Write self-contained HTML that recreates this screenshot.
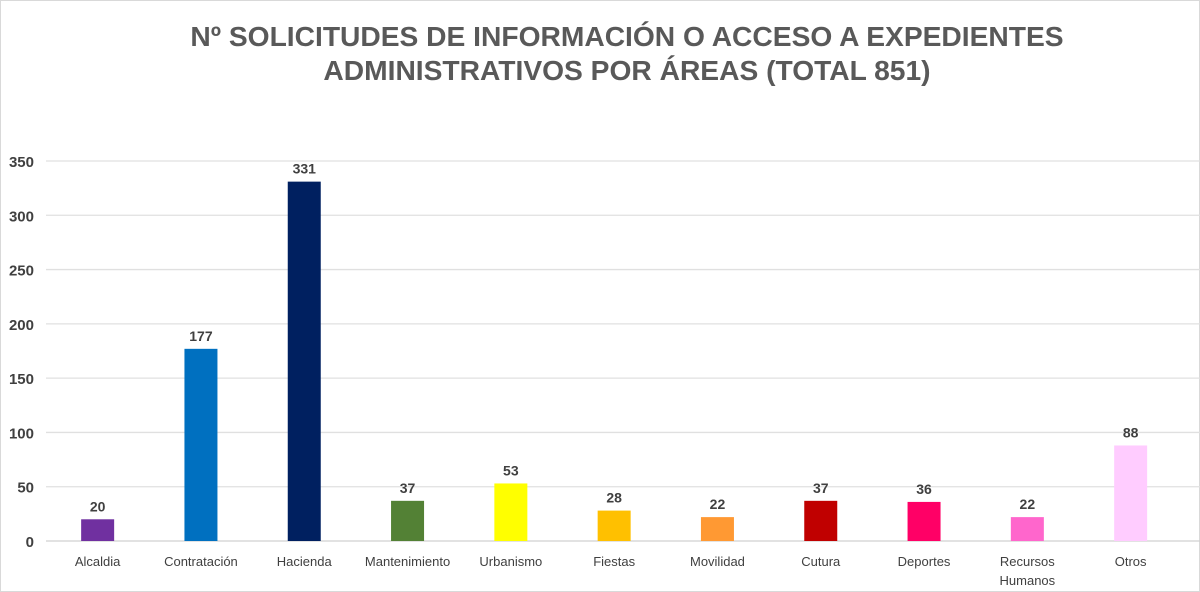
<!DOCTYPE html>
<html><head><meta charset="utf-8"><style>
body{margin:0;background:#fff;font-family:"Liberation Sans",sans-serif}
svg{display:block}
</style></head><body>
<svg id="c" width="1200" height="592">
<rect x="0.5" y="0.5" width="1199" height="591" fill="#fff" stroke="#d9d9d9"/>
<text x="627" y="46" text-anchor="middle" font-size="28.2" font-weight="bold" fill="#595959">Nº SOLICITUDES DE INFORMACIÓN O ACCESO A EXPEDIENTES</text>
<text x="627" y="80" text-anchor="middle" font-size="28.2" font-weight="bold" fill="#595959">ADMINISTRATIVOS POR ÁREAS (TOTAL 851)</text>
<g id="grid"></g><g id="bars"></g>
</svg>
<script>
const categories=["Alcaldia","Contratación","Hacienda","Mantenimiento","Urbanismo","Fiestas","Movilidad","Cutura","Deportes","Recursos Humanos","Otros"];
const values=[20,177,331,37,53,28,22,37,36,22,88];
const colors=["#7030a0","#0070c0","#002060","#538135","#ffff00","#ffc000","#ff9933","#c00000","#ff0066","#ff66cc","#ffccff"];
const ticks=[0,50,100,150,200,250,300,350];
const NS="http://www.w3.org/2000/svg";
const x0=46,x1=1200,y0=541,ymax=350,ytop=161;
const y=v=>y0-(v/ymax)*(y0-ytop);
const step=103.3;
const xc=i=>x0+step*(i+0.5);
const g=document.getElementById('grid'),b=document.getElementById('bars');
function el(t,a,p){const e=document.createElementNS(NS,t);for(const k in a)e.setAttribute(k,a[k]);p.appendChild(e);return e;}
ticks.forEach(t=>{
 const l=el('line',{x1:x0,x2:x1,y1:y(t),y2:y(t),stroke:t===0?'#d0d0d0':'#e0e0e0','stroke-width':1.3},g);
 
 
 const tx=el('text',{x:34,y:y(t)+6,'text-anchor':'end','font-size':15,'font-weight':'bold',fill:'#404040'},g);
 tx.textContent=t;
 
 
});
categories.forEach((c,i)=>{
 const w=33,v=values[i];
 const r=el('rect',{x:xc(i)-w/2,y:y(v),width:w,height:y0-y(v),fill:colors[i]},b);
 
 
 const lb=el('text',{x:xc(i),y:y(v)-8,'text-anchor':'middle','font-size':14,'font-weight':'bold',fill:'#404040'},b);
 lb.textContent=v;
 
 
 const parts=c==="Recursos Humanos"?["Recursos","Humanos"]:[c];
 parts.forEach((p,j)=>{
  const t=el('text',{x:xc(i),y:566+j*19,'text-anchor':'middle','font-size':13,fill:'#404040'},b);
  t.textContent=p;
  
  
 });
});
</script>
</body></html>
